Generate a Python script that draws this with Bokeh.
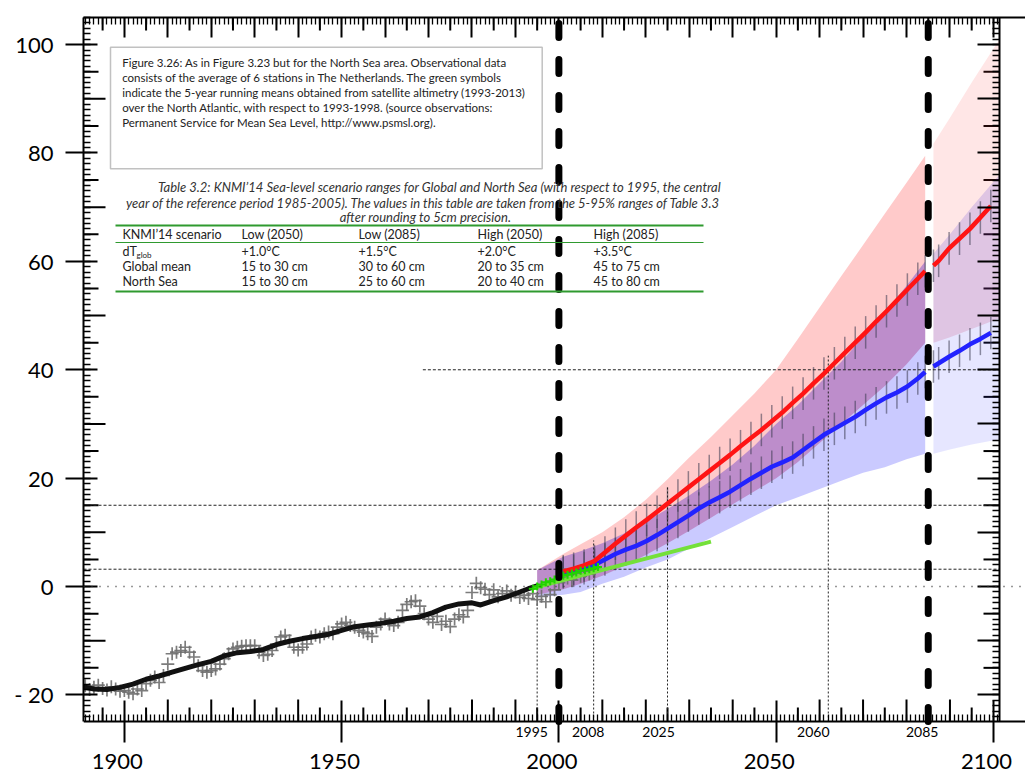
from bokeh.plotting import figure
from bokeh.models import Range1d, LinearAxis, FixedTicker, Span, Label, BoxAnnotation
from bokeh.embed import file_html
from bokeh.resources import INLINE

# ---------------- data ----------------
obs_years = list(range(1891, 2009))
obs_vals = [-18.3, -19.0, -18.6, -18.2, -18.8, -19.1, -18.5, -18.9, -19.3,
            -19.2, -19.5, -19.8, -18.9, -19.2, -17.9, -17.3, -16.7, -17.7, -16.4,
            -14.3, -12.4, -12.1, -11.8, -11.2, -12.1, -13.0, -14.6, -15.5, -15.8,
            -15.5, -15.2, -14.3, -13.3, -12.4, -11.5, -11.2, -11.0, -10.9, -10.9,
            -10.9, -12.1, -12.7, -12.5, -11.8, -10.6, -9.3, -9.0, -10.0, -11.2,
            -11.7, -11.2, -10.6, -9.3, -9.0, -9.3, -8.7, -8.4, -8.7, -7.5,
            -6.9, -6.6, -7.2, -7.5, -8.1, -8.4, -8.7, -9.2, -7.5, -6.9,
            -6.0, -6.9, -7.2, -6.6, -4.4, -3.3, -2.8, -2.6, -3.6, -5.0,
            -6.0, -6.6, -5.5, -7.0, -6.4, -7.4, -6.0, -5.2, -5.6, -4.4,
            -1.1, 0.6, -0.2, -0.5, -1.5, -0.6, -1.9, -1.3, -0.8, -1.6,
            -1.0, -2.0, -1.6, -2.2, -1.3, -2.4, -1.8, -2.8, -1.5, -0.6,
            0.7, 2.2, 1.6, 1.2, 2.4, 1.9, 2.8, 2.3, 3.0]

smooth_years = [1890, 1893, 1896, 1899, 1902, 1905, 1908, 1911, 1914, 1917, 1920, 1923,
                1926, 1929, 1932, 1935, 1938, 1941, 1944, 1947, 1950, 1953, 1956, 1959,
                1962, 1965, 1968, 1971, 1974, 1977, 1980, 1982, 1985, 1988, 1991, 1993, 1995]
smooth_vals = [-18.4, -18.9, -19.0, -18.6, -18.0, -17.1, -16.5, -15.8, -15.1, -14.4, -13.8, -12.8,
               -12.2, -12.0, -11.6, -10.7, -10.1, -9.6, -9.2, -8.8, -8.1, -7.4, -7.1, -6.8,
               -6.4, -5.9, -5.6, -4.8, -3.8, -3.2, -3.0, -3.4, -2.6, -1.9, -1.0, -0.4, 0.1]

sat_years = [1994, 1995, 1996, 1997, 1998, 1999, 2000, 2001, 2002, 2003, 2004, 2005, 2006, 2007, 2008, 2009]
sat_vals = [-0.4, 0.0, 0.4, 0.8, 1.0, 1.3, 1.8, 2.0, 2.2, 2.4, 2.6, 2.9, 3.0, 3.2, 3.4, 3.6]

trend_years = [1994, 2035]
trend_vals = [-0.3, 8.3]

# projections before the 2085 break
proj_years = [2001.0, 2003.4, 2005.8, 2008.2, 2010.6, 2013.0, 2015.4, 2017.8, 2020.2, 2022.6,
              2025.0, 2027.4, 2029.8, 2032.2, 2034.6, 2037.0, 2039.4, 2041.8, 2044.2, 2046.6,
              2049.0, 2051.4, 2053.8, 2056.2, 2058.6, 2061.0, 2063.4, 2065.8, 2068.2, 2070.6,
              2073.0, 2075.4, 2077.8, 2080.2, 2082.6, 2084.3]
high_vals = [2.8, 3.3, 3.9, 4.7, 6.3, 7.9, 9.4, 10.9, 12.3, 13.8,
             15.3, 16.8, 18.3, 19.8, 21.3, 22.8, 24.3, 25.9, 27.4, 28.9,
             30.5, 32.1, 33.9, 35.6, 37.5, 39.3, 41.2, 43.1, 45.0, 46.9,
             48.9, 50.8, 52.8, 54.8, 56.8, 58.2]
low_vals = [2.6, 2.9, 3.4, 4.0, 5.0, 6.0, 6.8, 7.5, 8.4, 9.5,
            10.7, 11.9, 13.1, 14.4, 15.5, 16.5, 17.5, 18.7, 19.9, 21.0,
            22.1, 22.9, 23.8, 25.2, 26.6, 28.0, 29.1, 30.2, 31.3, 32.6,
            33.8, 34.9, 35.8, 36.9, 38.4, 39.6]
# projections after the 2085 break
proj_years2 = [2086.2, 2087.4, 2089.8, 2092.2, 2094.6, 2097.0, 2099.4]
high_vals2 = [59.2, 60.1, 62.4, 64.2, 66.0, 68.1, 70.2]
low_vals2 = [40.6, 41.2, 42.4, 43.5, 44.7, 45.7, 46.8]
err_half = 3.0

band_years = [1995, 2001, 2005, 2010, 2015, 2020, 2025, 2030, 2035, 2040, 2045,
              2050, 2055, 2060, 2065, 2070, 2075, 2080, 2084.3]
high_lo = [-1.5, -0.5, 0.5, 2.0, 3.8, 5.8, 8.0, 10.3, 12.7, 15.2, 17.6,
           20.0, 23.0, 26.5, 30.0, 33.5, 37.0, 41.0, 45.0]
high_hi = [3.0, 6.0, 7.8, 10.0, 12.8, 16.0, 19.8, 23.8, 27.6, 31.6, 35.6,
           40.0, 45.7, 51.5, 57.3, 63.0, 68.8, 74.5, 79.5]
low_lo = [-2.0, -1.5, -1.0, 0.5, 1.8, 3.5, 5.0, 7.0, 9.0, 11.0, 13.0,
          15.0, 16.5, 18.0, 19.5, 21.0, 22.0, 23.5, 24.5]
low_hi = [3.0, 5.5, 6.5, 8.0, 9.8, 12.0, 14.3, 16.8, 19.5, 22.5, 26.0,
          30.0, 33.5, 37.5, 41.5, 46.0, 50.5, 55.5, 60.0]
band_years2 = [2086.2, 2090, 2095, 2101.4]
high_lo2 = [45.0, 46.0, 47.5, 49.5]
high_hi2 = [81.7, 86.5, 93.0, 101.0]
low_lo2 = [24.5, 25.3, 26.2, 27.2]
low_hi2 = [61.4, 65.0, 70.0, 76.0]

# reference lines
href_vals = [3.2, 15, 40]
href_start = [1890.6, 1890.6, 1968.7]
vref_years = [1995, 2008, 2025, 2062]
vref_tops = [0, 8.5, 18.6, 42.6]
vref_labels = ["1995", "2008", "2025", "2060", "2085"]
vref_label_years = [1995, 2008, 2025, 2062, 2085]
scenario_years = [2000, 2085]

x_tick_labels = [1900, 1950, 2000, 2050, 2100]
y_tick_labels = [-20, 0, 20, 40, 60, 80, 100]

caption_box = ["Figure 3.26: As in Figure 3.23 but for the North Sea area. Observational data",
               "consists of the average of 6 stations in The Netherlands. The green symbols",
               "indicate the 5-year running means obtained from satellite altimetry (1993-2013)",
               "over the North Atlantic, with respect to 1993-1998. (source observations:",
               "Permanent Service for Mean Sea Level, http://www.psmsl.org)."]
table_caption = ["Table 3.2: KNMI\u201914 Sea-level scenario ranges for Global and North Sea (with respect to 1995, the central",
                 "year of the reference period 1985-2005). The values in this table are taken from the 5-95% ranges of Table 3.3",
                 "after rounding to 5cm precision."]
table_header = ["KNMI\u201914 scenario", "Low (2050)", "Low (2085)", "High (2050)", "High (2085)"]
table_rows = [["dT", "+1.0\u00b0C", "+1.5\u00b0C", "+2.0\u00b0C", "+3.5\u00b0C"],
              ["Global mean", "15 to 30 cm", "30 to 60 cm", "20 to 35 cm", "45 to 75 cm"],
              ["North Sea", "15 to 30 cm", "25 to 60 cm", "20 to 40 cm", "45 to 80 cm"]]

# ---------------- layout ----------------
W, H = 1025, 772
FL, FT = 83, 17          # frame left/top in page pixels
AX_W, AX_H = 916, 704    # size of the axes box (bottom axis at FT+AX_H, right axis at FL+AX_W)
X0, X1 = 1890.6, 2101.4  # axis box limits
Y0, Y1 = -24.9, 105.0
PX = AX_W / (X1 - X0)
PY = AX_H / (Y1 - Y0)
XR = X0 + (W - FL) / PX  # frame extends to the right edge of the page
YB = Y1 - (H - FT) / PY  # frame extends to the bottom edge of the page


def X(px):
    return X0 + (px - FL) / PX


def Y(py):
    return Y1 - (py - FT) / PY


FONT = "Lato"

p = figure(width=W, height=H,
           x_range=Range1d(X0, XR), y_range=Range1d(YB, Y1),
           x_axis_location=None, y_axis_location=None,
           output_backend="svg", toolbar_location=None,
           min_border_left=FL, min_border_right=0, min_border_top=FT, min_border_bottom=0)
p.outline_line_color = None
p.grid.visible = False
p.background_fill_color = "white"
p.border_fill_color = "white"


def make_axis(ticks, minors, mi, mo, ni, labels=False):
    ax = LinearAxis(ticker=FixedTicker(ticks=ticks, minor_ticks=minors))
    ax.axis_line_width = 2
    ax.axis_line_color = "black"
    ax.major_tick_in = mi
    ax.major_tick_out = mo
    ax.major_tick_line_width = 2
    ax.major_tick_line_color = "black"
    ax.minor_tick_in = ni
    ax.minor_tick_out = 0
    ax.minor_tick_line_width = 1.3
    ax.minor_tick_line_color = "black"
    if not labels:
        ax.major_label_text_font_size = "1px"
        ax.major_label_text_color = None
        ax.major_label_standoff = 0
    return ax


years_all = list(range(1891, 2102))
units_all = list(range(-24, 106))

bottom = make_axis(x_tick_labels, years_all, 21, 21, 7)
bottom.fixed_location = Y0
top = make_axis(list(range(1900, 2101, 10)), years_all, 20, 0, 7)
left = make_axis(y_tick_labels, units_all, 14, 18, 7, labels=True)
left.bounds = (Y0, Y1)
left.major_label_text_font = FONT
left.major_label_text_font_size = "22px"
left.major_label_text_color = "black"
left.major_label_standoff = 12
left.major_label_overrides = {-20: "- 20"}
right = make_axis(list(range(-20, 101, 10)), units_all, 22, 0, 7)
right.fixed_location = X1
right.bounds = (Y0, Y1)
p.add_layout(bottom, "below")
p.add_layout(top, "above")
p.add_layout(left, "left")
p.add_layout(right, "right")

# medium tick marks drawn inside the axes box
t5 = [y for y in range(1895, 2100, 5) if y % 10 != 0]
t10 = [y for y in range(1910, 2100, 10) if y % 50 != 0]
p.segment(x0=t10, x1=t10, y0=[Y0] * len(t10), y1=[Y0 + 22 / PY] * len(t10), line_color="black", line_width=2)
p.segment(x0=t5, x1=t5, y0=[Y0] * len(t5), y1=[Y0 + 14 / PY] * len(t5), line_color="black", line_width=2)
p.segment(x0=t5, x1=t5, y0=[Y1] * len(t5), y1=[Y1 - 13 / PY] * len(t5), line_color="black", line_width=2)
u10 = [v for v in range(-10, 101, 20)]
u5 = [v for v in range(-15, 101, 10)]
p.segment(x0=[X0] * len(u10), x1=[X0 + 22 / PX] * len(u10), y0=u10, y1=u10, line_color="black", line_width=2)
p.segment(x0=[X0] * len(u5), x1=[X0 + 15 / PX] * len(u5), y0=u5, y1=u5, line_color="black", line_width=2)
p.segment(x0=[X1] * len(u5), x1=[X1 - 16 / PX] * len(u5), y0=u5, y1=u5, line_color="black", line_width=2)

# bands
p.varea(x=band_years, y1=high_lo, y2=high_hi, fill_color="#ff3a3a", fill_alpha=0.27)
p.varea(x=band_years, y1=low_lo, y2=low_hi, fill_color="#3a3aff", fill_alpha=0.27)
p.varea(x=band_years, y1=high_lo, y2=low_hi, fill_color="#7a1f86", fill_alpha=0.16)
p.varea(x=band_years2, y1=high_lo2, y2=high_hi2, fill_color="#ff3a3a", fill_alpha=0.13)
p.varea(x=band_years2, y1=low_lo2, y2=low_hi2, fill_color="#3a3aff", fill_alpha=0.13)
p.varea(x=band_years2, y1=high_lo2, y2=low_hi2, fill_color="#7a1f86", fill_alpha=0.06)

# error bars on projections
for xs, vs in ((proj_years, high_vals), (proj_years, low_vals), (proj_years2, high_vals2), (proj_years2, low_vals2)):
    p.segment(x0=xs, x1=xs, y0=[v - err_half for v in vs], y1=[v + err_half for v in vs],
              line_color="#3a3a50", line_alpha=0.55, line_width=1.5)

# reference lines
p.add_layout(Span(location=0, dimension="width", line_color="#333333", line_width=1.6, line_dash="1 7"))
p.segment(x0=href_start, x1=[X1] * len(href_vals), y0=href_vals, y1=href_vals,
          line_color="#222222", line_width=1, line_dash="3 2")
p.segment(x0=vref_years, x1=vref_years, y0=[Y0] * len(vref_years), y1=vref_tops,
          line_color="#222222", line_width=1, line_dash="2 2")

# observations
p.scatter(obs_years, obs_vals, marker="cross", size=13, line_color="#6e6e6e", line_width=1.7, line_alpha=0.9)
p.line(smooth_years, smooth_vals, line_color="#111111", line_width=5, line_join="round", line_cap="round")

# projections
p.line(proj_years, low_vals, line_color="#2222ff", line_width=4.5)
p.line(proj_years2, low_vals2, line_color="#2222ff", line_width=4.5)
p.line(proj_years, high_vals, line_color="#ff1414", line_width=4.5)
p.line(proj_years2, high_vals2, line_color="#ff1414", line_width=4.5)

# satellite
p.line(trend_years, trend_vals, line_color="#74e03a", line_width=4)
p.scatter(sat_years, sat_vals, marker="cross", size=8, line_color="#22d400", line_width=2)

# thick scenario dashes
p.segment(x0=scenario_years, x1=scenario_years, y0=[Y0] * 2, y1=[Y1] * 2, line_color="black",
          line_width=7, line_dash="14 22", line_cap="round")

# tick labels below axis
for yr in x_tick_labels:
    p.add_layout(Label(x=yr, y=Y0, x_offset=-7, y_offset=-39.5, text=str(yr), text_align="center",
                       text_baseline="middle", text_font=FONT, text_font_size="22px", text_color="black"))
small_offsets = [-5.5, -5.5, -9, -15, -6]
for yr, lab, off in zip(vref_label_years, vref_labels, small_offsets):
    p.add_layout(Label(x=yr, y=Y0, x_offset=off, y_offset=-10, text=lab, text_align="center",
                       text_baseline="middle", text_font=FONT, text_font_size="14px", text_color="black"))

# caption box
p.add_layout(BoxAnnotation(left=X(110), right=X(541.7), top=Y(46.7), bottom=Y(168.3),
                           fill_color="white", fill_alpha=1, line_color="#333333", line_width=1.5))
for i, line in enumerate(caption_box):
    p.add_layout(Label(x=X(121.7), y=Y(62.3 + i * 14.85), text=line, text_baseline="middle",
                       text_font=FONT, text_font_size="11.5px", text_color="#222222"))

# table
cap_centers = [439, 423, 425]
cap_ys = [186, 202, 216]
for line, cx, cy in zip(table_caption, cap_centers, cap_ys):
    p.add_layout(Label(x=X(cx), y=Y(cy), text=line, text_align="center", text_baseline="middle",
                       text_font=FONT, text_font_style="italic", text_font_size="13px", text_color="#333333"))
p.segment(x0=[X(115)] * 3, x1=[X(703)] * 3, y0=[Y(225), Y(242), Y(291)], y1=[Y(225), Y(242), Y(291)],
          line_color="#2f9a2f", line_width=[2, 1, 2])
col_x = [122, 241, 358, 477, 593]
row_y = [251, 266, 281]
for cx, txt in zip(col_x, table_header):
    p.add_layout(Label(x=X(cx), y=Y(234), text=txt, text_baseline="middle",
                       text_font=FONT, text_font_size="12.5px", text_color="#222222"))
for ry, row in zip(row_y, table_rows):
    for cx, txt in zip(col_x, row):
        p.add_layout(Label(x=X(cx), y=Y(ry), text=txt, text_baseline="middle",
                           text_font=FONT, text_font_size="12.5px", text_color="#222222"))
p.add_layout(Label(x=X(136), y=Y(254), text="glob", text_baseline="middle",
                   text_font=FONT, text_font_size="8px", text_color="#222222"))

open("out.html", "w").write(file_html(p, INLINE))
